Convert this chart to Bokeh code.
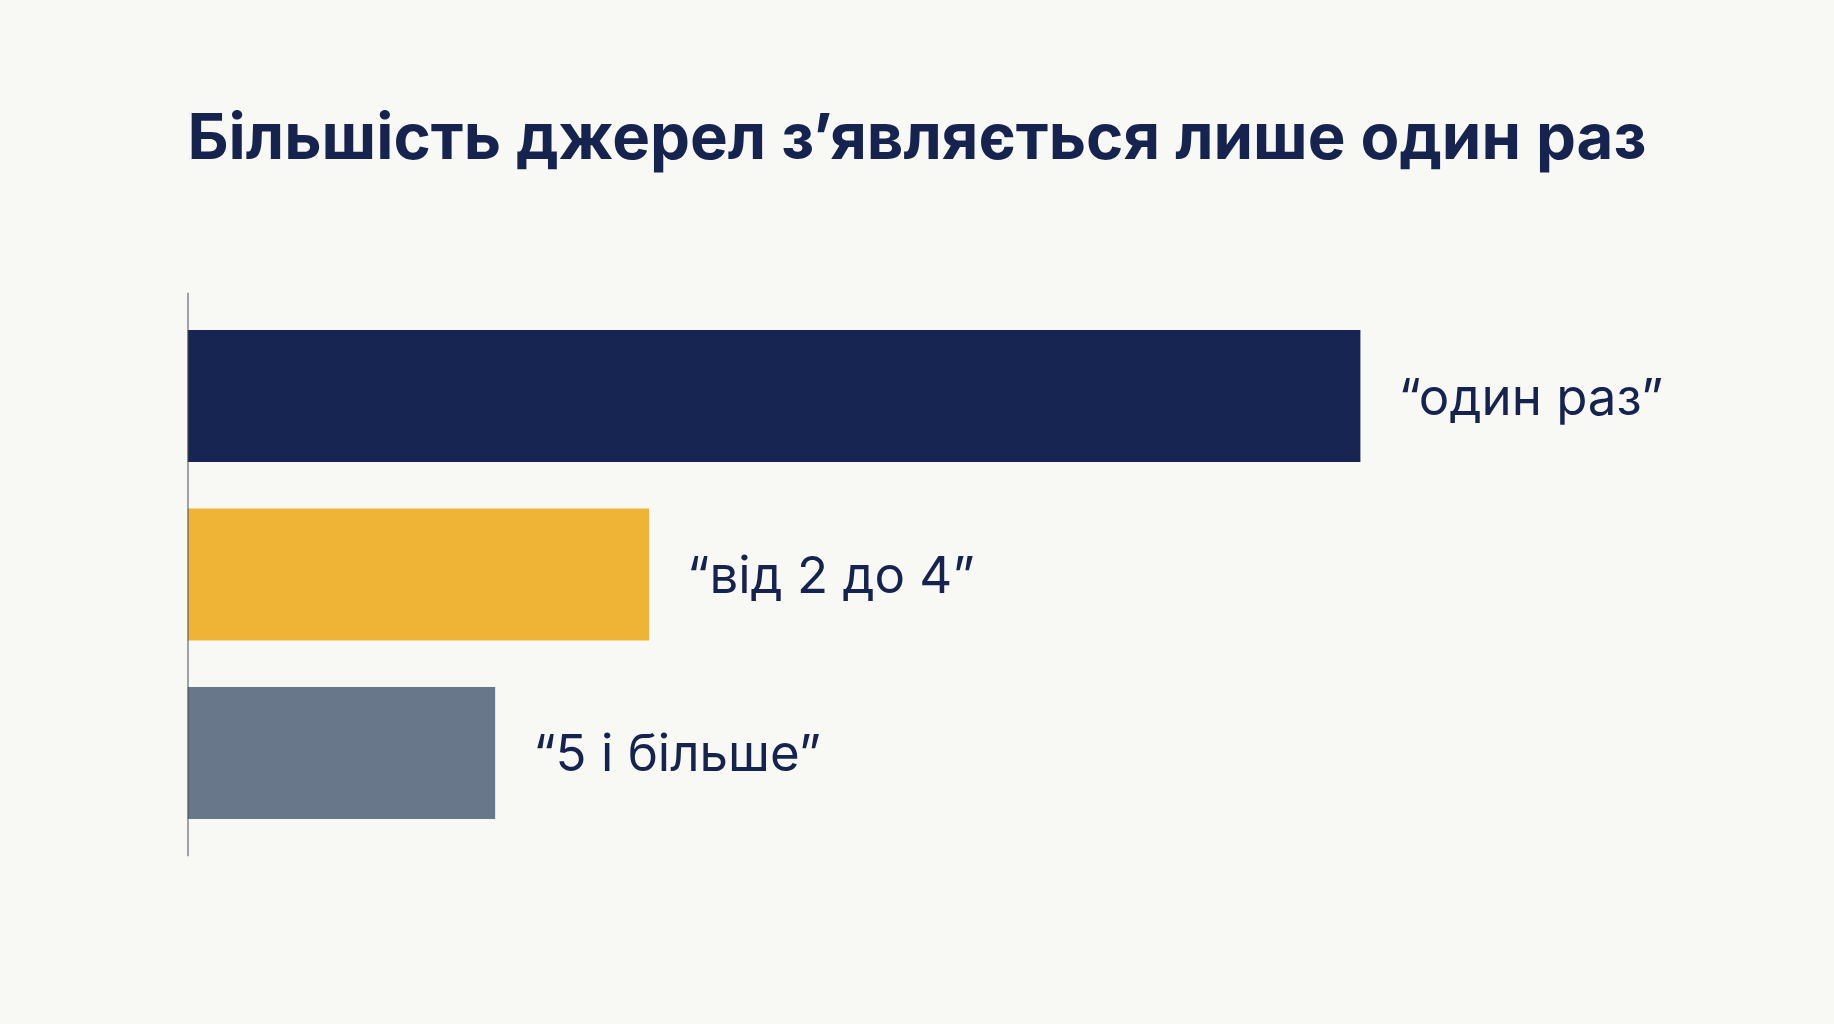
from bokeh.plotting import figure
from bokeh.models import FactorRange, Range1d, Span, ColumnDataSource, Title
from bokeh.core.properties import value
from bokeh.embed import file_html
from bokeh.resources import INLINE

# data
categories = ["“один раз”", "“від 2 до 4”", "“5 і більше”"]
shares = [61, 24, 16]
colors = ["#172552", "#efb336", "#687789"]

title_text = "Більшість джерел з’являється лише один раз"
bg = "#f8f8f4"
ink = "#17234f"

src = ColumnDataSource(dict(cat=categories, val=shares, color=colors))

p = figure(width=1818, height=1008, output_backend="svg", toolbar_location=None,
           y_range=FactorRange(factors=categories[::-1], range_padding=0.08,
                               range_padding_units="absolute"),
           x_range=Range1d(0, 79),
           min_border_left=187, min_border_right=112,
           min_border_top=292, min_border_bottom=152)

p.background_fill_color = bg
p.border_fill_color = bg
p.outline_line_color = None
p.xgrid.visible = False
p.ygrid.visible = False
p.xaxis.visible = False
p.yaxis.visible = False

p.title.text = title_text
p.title.align = "left"
p.title.text_font = "Inter"
p.title.text_font_size = "63.5px"
p.title.text_font_style = "bold"
p.title.text_color = ink
p.title.standoff = 10

# blank spacer between title and bars
p.add_layout(Title(text=" ", text_font_size="10px", standoff=101), "above")

p.hbar(y="cat", right="val", left=0, height=0.74, color="color", line_color=None, source=src)

p.add_layout(Span(location=0, dimension="height", line_color="#454b5a", line_width=2))

p.text(x="val", y="cat", text="cat", source=src, x_offset=38,
       text_baseline="middle", text_align="left",
       text_font=value("Inter"), text_font_size="51px", text_color=ink)

html = file_html(p, INLINE)
html = html.replace("<head>", "<head><style>html, body {background: %s;}</style>" % bg, 1)
open("out.html", "w").write(html)
